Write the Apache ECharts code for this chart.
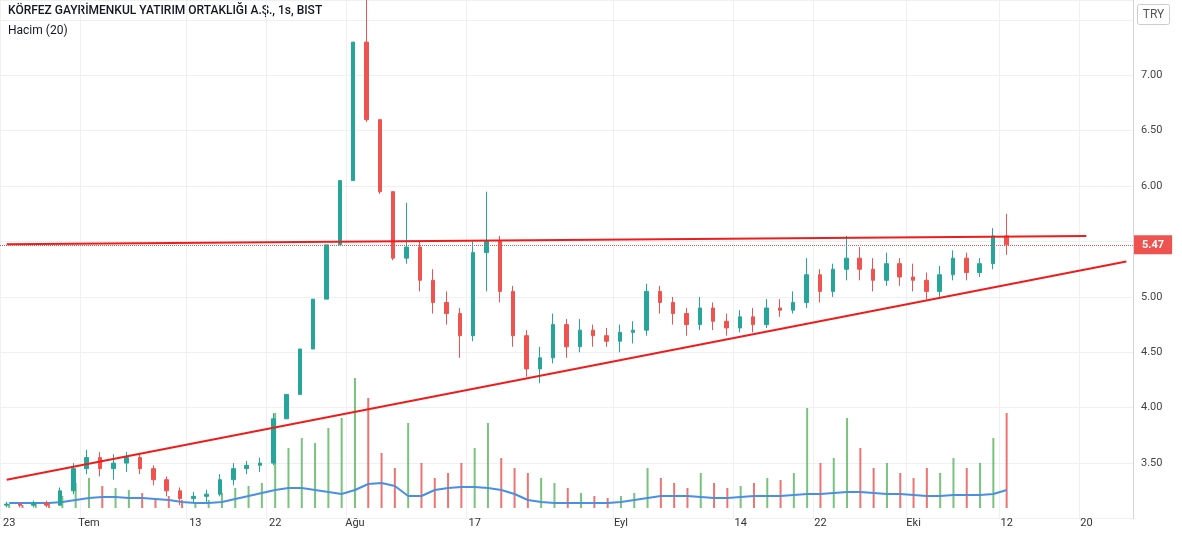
<!DOCTYPE html>
<html><head><meta charset="utf-8">
<script src="https://cdn.jsdelivr.net/npm/echarts@6/dist/echarts.min.js"></script>
<style>html,body{margin:0;padding:0;background:#fff}#c{width:1182px;height:543px}</style>
</head><body><div id="c"></div>
<script>
// trading days Jun 23 -> late Oct (holidays skipped)
const holidays = ['2020-07-15', '2020-07-30', '2020-07-31', '2020-08-03'];
const days = [];
for (let d = new Date(Date.UTC(2020, 5, 23)); days.length < 85; d.setUTCDate(d.getUTCDate() + 1)) {
  const s = d.toISOString().slice(0, 10);
  if (d.getUTCDay() % 6 !== 0 && !holidays.includes(s)) days.push(s);
}
const tickLabels = {0: '23', 6: 'Tem', 14: '13', 20: '22', 26: 'Ağu', 35: '17', 46: 'Eyl', 55: '14', 61: '22', 68: 'Eki', 75: '12', 81: '20'};

// [open, close, low, high]
const ohlc = [
  [3.12,3.13,3.10,3.15],[3.13,3.12,3.10,3.14],[3.12,3.14,3.10,3.16],[3.14,3.12,3.10,3.16],
  [3.12,3.25,3.12,3.28],[3.25,3.45,3.22,3.50],[3.45,3.55,3.40,3.62],[3.55,3.45,3.38,3.60],
  [3.45,3.50,3.35,3.58],[3.50,3.55,3.42,3.60],[3.55,3.45,3.40,3.58],[3.45,3.35,3.30,3.48],
  [3.35,3.25,3.20,3.38],[3.25,3.18,3.12,3.28],[3.18,3.20,3.14,3.24],[3.20,3.22,3.15,3.26],
  [3.22,3.35,3.20,3.40],[3.35,3.45,3.30,3.50],[3.45,3.48,3.40,3.52],[3.48,3.50,3.42,3.55],
  [3.50,3.90,3.48,3.95],[3.90,4.12,3.90,4.12],[4.12,4.53,4.12,4.53],[4.53,4.98,4.53,4.98],
  [4.98,5.47,4.98,5.47],[5.47,6.05,5.47,6.05],[6.05,7.30,6.05,7.30],[7.30,6.60,6.58,7.68],
  [6.60,5.95,5.93,6.60],[5.95,5.35,5.33,5.95],[5.35,5.45,5.30,5.85],[5.45,5.15,5.05,5.50],
  [5.15,4.95,4.85,5.25],[4.95,4.85,4.75,5.05],[4.85,4.65,4.45,4.90],[4.65,5.40,4.60,5.50],
  [5.40,5.50,5.05,5.95],[5.50,5.05,4.95,5.55],[5.05,4.65,4.55,5.10],[4.65,4.35,4.28,4.70],
  [4.35,4.45,4.22,4.55],[4.45,4.75,4.40,4.85],[4.75,4.55,4.45,4.80],[4.55,4.70,4.50,4.80],
  [4.70,4.65,4.55,4.75],[4.65,4.60,4.55,4.72],[4.60,4.68,4.50,4.75],[4.68,4.70,4.58,4.78],
  [4.70,5.05,4.65,5.12],[5.05,4.95,4.85,5.10],[4.95,4.85,4.75,5.00],[4.85,4.75,4.65,4.90],
  [4.75,4.90,4.70,5.00],[4.90,4.78,4.70,4.95],[4.78,4.72,4.65,4.85],[4.72,4.82,4.68,4.88],
  [4.82,4.75,4.68,4.90],[4.75,4.90,4.72,4.98],[4.90,4.88,4.82,4.98],[4.88,4.95,4.85,5.05],
  [4.95,5.20,4.90,5.35],[5.20,5.05,4.95,5.25],[5.05,5.25,5.00,5.30],[5.25,5.35,5.15,5.55],
  [5.35,5.25,5.15,5.45],[5.25,5.15,5.05,5.35],[5.15,5.30,5.10,5.40],[5.30,5.18,5.10,5.35],
  [5.18,5.15,5.05,5.30],[5.15,5.05,4.98,5.22],[5.05,5.20,5.00,5.28],[5.20,5.35,5.15,5.42],
  [5.35,5.22,5.15,5.40],[5.22,5.30,5.18,5.35],[5.30,5.55,5.25,5.62],[5.55,5.47,5.38,5.75]
];
const volume = [4,3,5,4,12,25,30,22,20,18,15,10,12,8,6,8,15,20,22,25,95,60,70,65,80,90,130,110,
  55,40,85,45,30,35,45,60,85,50,40,35,30,25,20,15,12,10,12,15,40,30,25,20,35,25,20,22,
  25,30,28,35,100,45,50,90,60,40,45,35,30,40,35,50,40,45,70,95];
const volumeMa = [5,5,5,5,6,8,10,11,11,10,10,9,8,6,5,5,6,9,12,15,18,20,20,18,16,14,18,24,
  25,22,12,12,18,20,21,21,20,18,14,8,6,5,5,5,5,5,6,8,10,12,12,12,11,10,10,11,12,12,
  12,13,14,14,15,16,16,15,14,14,13,12,12,13,13,13,14,18];

const up = '#26a69a', down = '#ef5350';
const font = 'Roboto, "DejaVu Sans", sans-serif';
const chart = echarts.init(document.getElementById('c'));
const labelInterval = (i) => tickLabels[i] !== undefined;

chart.setOption({
  animation: false,
  textStyle: {fontFamily: font},
  graphic: [
    {type: 'text', left: 8, top: 5, style: {text: 'KÖRFEZ GAYRİMENKUL YATIRIM ORTAKLIĞI A.Ş., 1s, BIST', fontSize: 12, fontWeight: 500, fill: '#131722', fontFamily: font}},
    {type: 'text', left: 8, top: 25, style: {text: 'Hacim (20)', fontSize: 12, fill: '#131722', fontFamily: font}},
    {type: 'group', right: 12, top: 4, z: 100, children: [
      {type: 'rect', shape: {x: 0, y: 0, width: 32, height: 20, r: 2}, style: {fill: '#fff', stroke: '#c9ccd4'}},
      {type: 'text', x: 16, y: 10, style: {text: 'TRY', fontSize: 12, fill: '#555', align: 'center', verticalAlign: 'middle', fontFamily: font}}
    ]}
  ],
  grid: [
    {left: 0, right: 49, top: 0, bottom: 24.5},
    {left: 0, right: 49, top: 378, bottom: 35}
  ],
  xAxis: [
    {type: 'category', data: days, gridIndex: 0, boundaryGap: true,
      axisLine: {show: false}, axisTick: {show: false}, axisLabel: {show: false},
      splitLine: {show: true, interval: labelInterval, lineStyle: {color: '#eef0f5'}}},
    {type: 'category', data: days, gridIndex: 1, boundaryGap: true,
      axisLine: {show: false}, axisTick: {show: false},
      axisLabel: {interval: labelInterval, color: '#333', fontSize: 11, margin: 10,
        formatter: (v, i) => tickLabels[i] || ''},
      splitLine: {show: false}}
  ],
  yAxis: [
    {type: 'value', gridIndex: 0, position: 'right', min: 3.0, max: 7.68, interval: 0.5,
      axisLine: {show: true, lineStyle: {color: '#d1d4dc'}}, axisTick: {show: false},
      axisLabel: {color: '#444', fontSize: 11, margin: 8, showMaxLabel: false, showMinLabel: false,
        formatter: v => (v > 7.2 ? '' : v.toFixed(2))},
      splitLine: {lineStyle: {color: '#eef0f5'}}},
    {type: 'value', gridIndex: 1, min: 0, max: 130, show: false}
  ],
  series: [
    {type: 'bar', xAxisIndex: 1, yAxisIndex: 1, barWidth: 2, z: 1,
      data: volume.map((v, i) => ({value: v, itemStyle: {color: ohlc[i][1] >= ohlc[i][0] ? 'rgba(76,175,80,0.75)' : 'rgba(229,57,53,0.7)'}}))},
    {type: 'line', xAxisIndex: 1, yAxisIndex: 1, data: volumeMa, showSymbol: false, z: 2,
      lineStyle: {color: '#4a90e2', width: 2}},
    {type: 'candlestick', xAxisIndex: 0, yAxisIndex: 0, data: ohlc, barWidth: 4, z: 3,
      itemStyle: {color: up, color0: down, borderColor: up, borderColor0: down},
      markLine: {symbol: 'none', silent: true, animation: false,
        data: [
          [{coord: [0, 5.475], lineStyle: {color: '#f01c1c', width: 2, type: 'solid'}, label: {show: false}}, {coord: [81, 5.55]}],
          [{coord: [0, 3.35], lineStyle: {color: '#f01c1c', width: 2, type: 'solid'}, label: {show: false}}, {coord: [84, 5.32]}],
          {yAxis: 5.47, lineStyle: {color: '#ef5350', width: 1, type: 'dotted'},
            label: {show: true, position: 'end', formatter: '5.47', color: '#fff', backgroundColor: '#ef5350',
              padding: [4, 8, 4, 8], fontSize: 11, fontWeight: 'bold', distance: 1}}
        ]}}
  ]
});
</script></body></html>
